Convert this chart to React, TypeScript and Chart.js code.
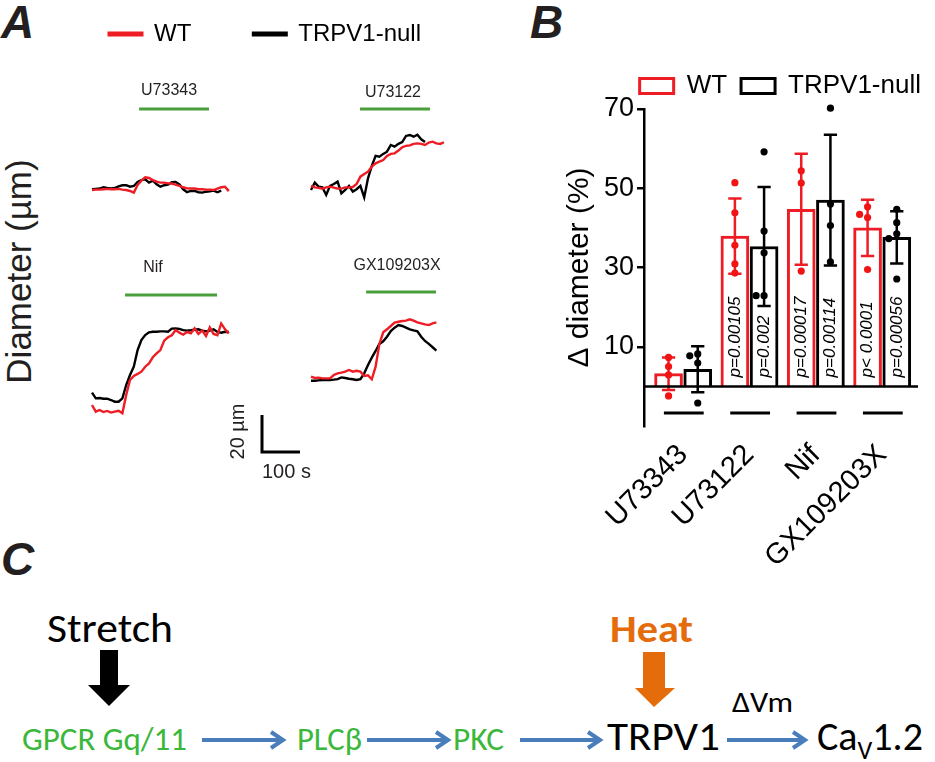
import React, { useEffect, useRef } from 'react';
import { Chart, registerables } from 'chart.js';
Chart.register(...registerables);

const ARIAL = '"Liberation Sans", Arial, Helvetica, sans-serif';
const CALIBRI = 'Carlito, Calibri, Lato, "Noto Sans", sans-serif';
const RED = '#ee1c24';
const DOT_RED = '#f01414';
const BLACK = '#000000';
const GREEN = '#4a9f3c';
const TEXT_GREEN = '#3bb83b';
const ORANGE = '#e46c0a';
const BLUE = '#4a7ebb';
const INK = '#231f20';

// ================= Panel A data =================
const seriesLabels = ['WT', 'TRPV1-null'];
const drugNames = ['U73343', 'U73122', 'Nif', 'GX109203X'];
const sampleStepSec = 10;
const drugStartSec = [124, 129, 87, 145];
const drugEndSec = [308, 313, 329, 329];
const scaleBarSeconds = 100;
const scaleBarMicrons = 20;

// diameter change (µm) sampled every 10 s
const u73343WT = [-0.4, -0.2, -0.2, 0, 0.2, 0, 0, 0.2, -0.2, -0.4, -0.9, -1.8, 2.3, 4.7, 6.5, 6.1, 5.0, 4.1, 3.6, 3.6, 3.2, 3.1, 2.5, 1.8, 1.1, 0.5, 0.4, 0.4, 0, 0, -0.2, -0.2, -0.4, 0.4, 1.1, 1.4, -1.0];
const u73343Null = [0, 0.2, 0.4, 1.1, 0.7, 0.4, 0.7, 1.6, 2.2, 2.2, 1.4, 1.8, 4.0, 5.0, 5.4, 3.6, 4.7, 2.7, 1.4, 2.2, 2.5, 3.8, 4.0, 2.7, 0, -1.6, -0.9, -0.9, -1.6, -1.8, -1.3, -1.1, -0.7, -1.6, -0.7];
const u73122WT = [1.3, 0.5, 0.2, -0.2, 0.5, 0.9, 0.4, -0.2, -0.2, 0.5, 0.5, 0.7, 2.3, 6.3, 7.7, 9.0, 11.7, 13.5, 14.4, 15.3, 17.5, 18.6, 18.9, 20.4, 22.2, 22.9, 23.2, 24.0, 24.3, 24.0, 23.4, 24.7, 25.2, 24.3, 24.0, 24.9];
const u73122Null = [-0.9, 3.1, 0.9, 0.5, -3.6, 1.3, 2.3, 3.6, -2.7, -0.9, 1.3, -1.8, -0.5, 1.3, -4.9, 5.4, 12.1, 17.5, 17.1, 18.6, 19.8, 23.4, 22.5, 24.0, 25.0, 28.3, 28.8, 27.9, 29.0, 26.5, 25.0];
const nifWT = [2.7, -0.9, 0, -1.1, -0.5, -1.4, -0.9, -0.4, -1.8, 8.1, 16.2, 18.4, 19.5, 20.7, 23.4, 25.2, 28.5, 30.6, 32.4, 37.5, 39.3, 40.4, 43.2, 41.8, 40.7, 42.2, 41.4, 44.1, 41.1, 42.9, 40.0, 44.7, 41.1, 40.4, 46.8, 43.6, 41.4];
const nifNull = [9.4, 6.3, 6.5, 6.1, 6.1, 5.4, 4.5, 4.5, 6.3, 13.5, 18.9, 23.4, 32.4, 37.8, 40.5, 42.0, 42.3, 42.3, 42.5, 42.5, 42.3, 44.0, 44.1, 43.8, 43.2, 42.9, 43.1, 43.4, 43.6, 42.9, 42.5, 42.9, 43.6, 42.2, 41.8, 42.3, 42.2];
const gxWT = [1.8, 1.1, 1.3, 0.9, 0.9, 0.9, 2.7, 3.6, 4.0, 4.5, 5.4, 4.5, 5.0, 4.5, 2.2, 2.5, 0.4, 7.2, 19.5, 25.8, 27.4, 29.2, 31.0, 31.5, 31.9, 32.1, 32.8, 32.1, 31.2, 30.6, 30.1, 29.7, 30.6, 31.2];
const gxNull = [-0.4, -0.4, -0.2, 0, 0, 0, 0.2, 0.5, 1.4, 1.1, 0.7, 0.4, 0, 0.4, 3.6, 8.1, 12.1, 15.7, 19.5, 20.9, 23.4, 26.5, 28.3, 29.7, 29.2, 28.3, 27.4, 26.8, 26.3, 23.4, 21.1, 19.5, 17.7, 15.9];
const tracesWT = [u73343WT, u73122WT, nifWT, gxWT];
const tracesNull = [u73343Null, u73122Null, nifNull, gxNull];

// ================= Panel B data =================
const categories = ['U73343', 'U73122', 'Nif', 'GX109203X'];
const yTicks = [10, 30, 50, 70];
const wtMean = [3.2, 37.9, 44.7, 40.0];
const wtSD = [4.1, 9.5, 14.0, 7.1];
const nullMean = [4.3, 35.3, 47.0, 37.6];
const nullSD = [5.8, 15.0, 16.5, 6.6];
const wtDots = [[7.3, 5.0, 2.9, -2.4], [51.4, 43.8, 35.6, 30.9, 28.6], [54.4, 51.3, 29.1], [45.3, 43.4, 42.6, 29.5]];
const nullDots = [[8.2, 7.7, 5.9, -4.2], [59.2, 39.2, 33.7, 22.9, 22.9], [70.2, 46.0, 40.6, 31.4], [44.7, 41.3, 38.5, 37.3, 27.1]];
const wtP = ['', 'p=0.00105', 'p=0.00017', 'p< 0.0001'];
const nullP = ['', 'p=0.002', 'p=0.00114', 'p=0.00056'];

// ================= layout (pixels) =================
const PX_PER_S = 0.38;
const PX_PER_UM = 1.85;
const tracePanels = [
  { left: 80, top: 60, width: 170, height: 150, x0: 92, y0: 189.3, barY: 109, labelDx: -5, labelDy: -18 },
  { left: 295, top: 60, width: 170, height: 150, x0: 311, y0: 188.3, barY: 109, labelDx: -2, labelDy: -16 },
  { left: 80, top: 240, width: 170, height: 185, x0: 92, y0: 410, barY: 295, labelDx: -18, labelDy: -27 },
  { left: 295, top: 240, width: 170, height: 160, x0: 311, y0: 380, barY: 292, labelDx: -4, labelDy: -26 },
];
const scaleBarBox = { left: 200, top: 390, width: 140, height: 100, x0: 262, y0: 452 };
const B_CANVAS = { left: 480, top: 0, width: 455, height: 565 };

function ChartCanvas({ left, top, width, height, make }: any) {
  const ref = useRef<HTMLCanvasElement>(null);
  useEffect(() => {
    const chart = new Chart(ref.current as HTMLCanvasElement, make());
    return () => chart.destroy();
  }, []);
  return (
    <canvas
      ref={ref}
      width={width}
      height={height}
      style={{ position: 'absolute', left, top, width, height }}
    />
  );
}

function rangeFor(box: any) {
  const xmin = -(box.x0 - box.left) / PX_PER_S;
  const xmax = xmin + box.width / PX_PER_S;
  const ymax = (box.y0 - box.top) / PX_PER_UM;
  const ymin = ymax - box.height / PX_PER_UM;
  return { xmin, xmax, ymin, ymax };
}

function traceConfig(p: number): any {
  const box = tracePanels[p];
  const r = rangeFor(box);
  const toPts = (arr: number[]) => arr.map((v, i) => ({ x: i * sampleStepSec, y: v }));
  const drugPlugin = {
    id: 'drugBar' + p,
    afterDatasetsDraw(chart: any) {
      const { ctx, scales } = chart;
      const x1 = scales.x.getPixelForValue(drugStartSec[p]);
      const x2 = scales.x.getPixelForValue(drugEndSec[p]);
      const y = box.barY - box.top;
      ctx.save();
      ctx.strokeStyle = GREEN;
      ctx.lineWidth = 3;
      ctx.beginPath();
      ctx.moveTo(x1, y);
      ctx.lineTo(x2, y);
      ctx.stroke();
      ctx.fillStyle = INK;
      ctx.font = `16px ${ARIAL}`;
      ctx.textAlign = 'center';
      ctx.textBaseline = 'middle';
      ctx.fillText(drugNames[p], (x1 + x2) / 2 + box.labelDx, y + box.labelDy);
      ctx.restore();
    },
  };
  return {
    type: 'line',
    data: {
      datasets: [
        { label: seriesLabels[0], data: toPts(tracesWT[p]), borderColor: RED, borderWidth: 2.4, pointRadius: 0, tension: 0, clip: false },
        { label: seriesLabels[1], data: toPts(tracesNull[p]), borderColor: BLACK, borderWidth: 2.4, pointRadius: 0, tension: 0, clip: false },
      ],
    },
    options: {
      responsive: false,
      animation: false,
      events: [],
      layout: { padding: 0 },
      plugins: { legend: { display: false }, tooltip: { enabled: false } },
      scales: {
        x: { type: 'linear', display: false, min: r.xmin, max: r.xmax },
        y: { type: 'linear', display: false, min: r.ymin, max: r.ymax },
      },
    },
    plugins: [drugPlugin],
  };
}

function scaleBarConfig(): any {
  const r = rangeFor(scaleBarBox);
  const labelPlugin = {
    id: 'scaleLabels',
    afterDatasetsDraw(chart: any) {
      const { ctx, scales } = chart;
      const px = scales.x.getPixelForValue(0);
      const py0 = scales.y.getPixelForValue(0);
      const pyMid = scales.y.getPixelForValue(scaleBarMicrons / 2);
      ctx.save();
      ctx.fillStyle = INK;
      ctx.font = `20px ${ARIAL}`;
      ctx.textAlign = 'left';
      ctx.textBaseline = 'alphabetic';
      ctx.fillText(`${scaleBarSeconds} s`, px, py0 + 26);
      ctx.translate(px - 18, pyMid - 2);
      ctx.rotate(-Math.PI / 2);
      ctx.textAlign = 'center';
      ctx.fillText(`${scaleBarMicrons} µm`, 0, 0);
      ctx.restore();
    },
  };
  return {
    type: 'line',
    data: {
      datasets: [
        {
          label: 'scale',
          data: [
            { x: 0, y: scaleBarMicrons },
            { x: 0, y: 0 },
            { x: scaleBarSeconds, y: 0 },
          ],
          borderColor: BLACK,
          borderWidth: 3,
          pointRadius: 0,
          tension: 0,
          clip: false,
          borderJoinStyle: 'miter',
        },
      ],
    },
    options: {
      responsive: false,
      animation: false,
      events: [],
      plugins: { legend: { display: false }, tooltip: { enabled: false } },
      scales: {
        x: { type: 'linear', display: false, min: r.xmin, max: r.xmax },
        y: { type: 'linear', display: false, min: r.ymin, max: r.ymax },
      },
    },
    plugins: [labelPlugin],
  };
}

function legendAConfig(): any {
  return {
    type: 'line',
    data: {
      datasets: [
        { label: seriesLabels[0], data: [], borderColor: RED, backgroundColor: RED, borderWidth: 3 },
        { label: seriesLabels[1], data: [], borderColor: BLACK, backgroundColor: BLACK, borderWidth: 3 },
      ],
    },
    options: {
      responsive: false,
      animation: false,
      events: [],
      layout: { padding: { left: 47 } },
      plugins: {
        tooltip: { enabled: false },
        legend: {
          display: true,
          position: 'top',
          align: 'start',
          maxHeight: 200,
          labels: { boxWidth: 33, boxHeight: 2, padding: 62, color: '#000', font: { family: ARIAL, size: 24 } },
        },
      },
      scales: { x: { display: false }, y: { display: false } },
    },
  };
}

function swarmOffsets(vals: number[], step: number, thresh: number) {
  const placed: { x: number; y: number }[] = [];
  return vals.map((v) => {
    const cands = [0, -step, step, -2 * step, 2 * step];
    for (const c of cands) {
      if (!placed.some((p) => Math.abs(p.y - v) < thresh && Math.abs(p.x - c) < step * 0.9)) {
        placed.push({ x: c, y: v });
        return c;
      }
    }
    placed.push({ x: 0, y: v });
    return 0;
  });
}

function barConfig(): any {
  const barOffset = [-0.22, 0.22];
  const means = [wtMean, nullMean];
  const sds = [wtSD, nullSD];
  const dots = [wtDots, nullDots];
  const pvals = [wtP, nullP];
  const colors = [RED, BLACK];
  const dotColors = [DOT_RED, BLACK];
  const cap = 0.1;

  const barSets = [0, 1].map((s) => ({
    type: 'bar',
    label: seriesLabels[s],
    data: categories.map((_, i) => ({ x: i + barOffset[s], y: means[s][i] })),
    backgroundColor: '#ffffff',
    borderColor: colors[s],
    borderWidth: 3,
    borderSkipped: 'start',
    barThickness: 28,
    grouped: false,
    order: 3,
  }));
  const errSets = [0, 1].map((s) => {
    const pts: any[] = [];
    categories.forEach((_, i) => {
      const x = i + barOffset[s];
      const lo = means[s][i] - sds[s][i];
      const hi = means[s][i] + sds[s][i];
      pts.push({ x, y: lo }, { x, y: hi }, { x, y: null });
      pts.push({ x: x - cap, y: hi }, { x: x + cap, y: hi }, { x, y: null });
      pts.push({ x: x - cap, y: lo }, { x: x + cap, y: lo }, { x, y: null });
    });
    return {
      type: 'line',
      label: 'sd' + s,
      data: pts,
      borderColor: colors[s],
      borderWidth: 2.5,
      pointRadius: 0,
      spanGaps: false,
      tension: 0,
      order: 2,
    };
  });
  const dotSets = [0, 1].map((s) => {
    const pts: any[] = [];
    categories.forEach((_, i) => {
      const offs = swarmOffsets(dots[s][i], 0.12, 2.0);
      dots[s][i].forEach((v, k) => pts.push({ x: i + barOffset[s] + offs[k], y: v }));
    });
    return {
      type: 'scatter',
      label: 'pts' + s,
      data: pts,
      backgroundColor: dotColors[s],
      borderWidth: 0,
      pointRadius: 3.6,
      clip: false,
      order: 1,
    };
  });

  const extras = {
    id: 'barExtras',
    afterDatasetsDraw(chart: any) {
      const { ctx, chartArea, scales } = chart;
      const xs = scales.x;
      const ys = scales.y;
      const y0 = ys.getPixelForValue(0);
      ctx.save();
      ctx.strokeStyle = '#000';
      ctx.lineWidth = 2.5;
      ctx.beginPath();
      ctx.moveTo(chartArea.left, y0);
      ctx.lineTo(chartArea.right, y0);
      ctx.stroke();
      const yu = ys.getPixelForValue(-6.7);
      ctx.lineWidth = 3;
      categories.forEach((_, i) => {
        ctx.beginPath();
        ctx.moveTo(xs.getPixelForValue(i - 0.29), yu);
        ctx.lineTo(xs.getPixelForValue(i + 0.31), yu);
        ctx.stroke();
      });
      ctx.fillStyle = '#000';
      ctx.font = `italic 17px ${ARIAL}`;
      ctx.textAlign = 'left';
      ctx.textBaseline = 'middle';
      [0, 1].forEach((s) => {
        categories.forEach((_, i) => {
          const t = pvals[s][i];
          if (!t) return;
          ctx.save();
          ctx.translate(xs.getPixelForValue(i + barOffset[s]), y0 - 9);
          ctx.rotate(-Math.PI / 2);
          ctx.fillText(t, 0, 0);
          ctx.restore();
        });
      });
      ctx.restore();
    },
  };

  return {
    type: 'bar',
    data: { datasets: [...barSets, ...errSets, ...dotSets] },
    options: {
      responsive: false,
      animation: false,
      events: [],
      layout: { padding: { top: 8, left: 0, right: 0, bottom: 0 } },
      plugins: {
        tooltip: { enabled: false },
        legend: {
          display: true,
          position: 'top',
          align: 'end',
          labels: {
            boxWidth: 34,
            boxHeight: 15,
            padding: 14,
            color: '#000',
            font: { family: ARIAL, size: 26 },
            filter: (item: any) => item.datasetIndex < 2,
          },
        },
      },
      scales: {
        x: {
          type: 'linear',
          offset: false,
          min: -0.59,
          max: 3.54,
          afterBuildTicks: (s: any) => {
            s.ticks = categories.map((_, i) => ({ value: i }));
          },
          afterFit: (s: any) => {
            s.height = B_CANVAS.height - 426;
            s.paddingLeft = 0;
            s.paddingRight = 17;
          },
          grid: { display: false, drawTicks: false },
          border: { display: false },
          ticks: {
            autoSkip: false,
            minRotation: 45,
            maxRotation: 45,
            padding: 12,
            color: '#000',
            font: { family: ARIAL, size: 29 },
            callback: (v: any) => categories[v] ?? '',
          },
        },
        y: {
          type: 'linear',
          min: -10,
          max: 70,
          afterBuildTicks: (s: any) => {
            s.ticks = yTicks.map((v) => ({ value: v }));
          },
          afterFit: (s: any) => {
            s.width = 164;
            s.paddingTop = 109;
            s.paddingBottom = 0;
          },
          grid: { drawOnChartArea: false, drawTicks: true, tickLength: 7, color: '#000', lineWidth: 2.5 },
          border: { display: true, color: '#000', width: 2.5 },
          ticks: { padding: 3, color: '#000', font: { family: ARIAL, size: 27 } },
          title: {
            display: true,
            text: 'Δ diameter (%)',
            color: '#000',
            font: { family: ARIAL, size: 30 },
            padding: { top: 82, bottom: 0 },
          },
        },
      },
    },
    plugins: [extras],
  };
}

const blueArrows = [
  [202, 283],
  [367, 448],
  [520, 600],
  [727, 805],
];

function Diagram() {
  const ay = 740;
  return (
    <svg width={935} height={762} style={{ position: 'absolute', left: 0, top: 0 }}>
      <g fontFamily={ARIAL} fontWeight="bold" fontStyle="italic" fontSize={46} fill={INK}>
        <text x={1} y={38}>A</text>
        <text x={530} y={38}>B</text>
        <text x={1} y={575}>C</text>
      </g>
      <text transform="translate(31,271.5) rotate(-90)" textAnchor="middle" fontFamily={ARIAL} fontSize={35} fill={INK}>
        Diameter (µm)
      </text>
      <g fontFamily={CALIBRI}>
        <text x={47} y={642} fontSize={40} fill="#000" textLength={126} lengthAdjust="spacingAndGlyphs">Stretch</text>
        <polygon points="100,650 118,650 118,685 130,685 109,706 88,685 100,685" fill="#000" />
        <text x={610} y={642} fontSize={38} fontWeight="bold" fill={ORANGE} textLength={83} lengthAdjust="spacingAndGlyphs">Heat</text>
        <polygon points="643,652 665,652 665,688 675,688 654,707 635,688 643,688" fill={ORANGE} />
        <text x={22} y={750} fontSize={33} fill={TEXT_GREEN} textLength={165} lengthAdjust="spacingAndGlyphs">GPCR Gq/11</text>
        <text x={297} y={750} fontSize={33} fill={TEXT_GREEN} textLength={65} lengthAdjust="spacingAndGlyphs">PLCβ</text>
        <text x={453} y={750} fontSize={33} fill={TEXT_GREEN} textLength={51} lengthAdjust="spacingAndGlyphs">PKC</text>
        <text x={607} y={750} fontSize={40} fill="#000" textLength={113} lengthAdjust="spacingAndGlyphs">TRPV1</text>
        <text x={732} y={712} fontSize={28} fill="#000" textLength={61} lengthAdjust="spacingAndGlyphs">ΔVm</text>
        <text x={817} y={750} fontSize={40} fill="#000">
          Ca<tspan fontSize={26} dy={9}>V</tspan>
          <tspan dy={-9}>1.2</tspan>
        </text>
        {blueArrows.map(([x1, x2], i) => (
          <g key={i} stroke={BLUE} strokeWidth={4} fill="none">
            <line x1={x1} y1={ay} x2={x2 - 2} y2={ay} />
            <polyline points={`${x2 - 12},${ay - 8} ${x2},${ay} ${x2 - 12},${ay + 8}`} strokeLinejoin="miter" />
          </g>
        ))}
      </g>
    </svg>
  );
}

export default function App() {
  return (
    <div style={{ position: 'fixed', left: 0, top: 0, width: 935, height: 762, overflow: 'hidden', background: '#fff' }}>
      <Diagram />
      <ChartCanvas left={0} top={-40} width={520} height={120} make={legendAConfig} />
      {tracePanels.map((b, p) => (
        <ChartCanvas key={p} left={b.left} top={b.top} width={b.width} height={b.height} make={() => traceConfig(p)} />
      ))}
      <ChartCanvas left={scaleBarBox.left} top={scaleBarBox.top} width={scaleBarBox.width} height={scaleBarBox.height} make={scaleBarConfig} />
      <ChartCanvas left={B_CANVAS.left} top={B_CANVAS.top} width={B_CANVAS.width} height={B_CANVAS.height} make={barConfig} />
    </div>
  );
}
